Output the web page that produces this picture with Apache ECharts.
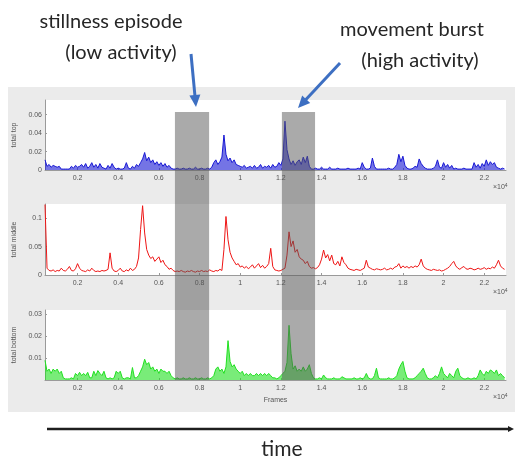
<!DOCTYPE html>
<html>
<head>
<meta charset="utf-8">
<script src="https://cdn.jsdelivr.net/npm/echarts@6/dist/echarts.min.js"></script>
<style>
html,body{margin:0;padding:0;background:#fff;}
#chart{width:515px;height:458px;}
</style>
</head>
<body>
<div id="chart"></div>
<script>
// ---- data (frames sampled every 100 frames, starting at frame 400) ----
var frameStart = 400;
var frameStep = 100;
var xTickValues = [2000, 4000, 6000, 8000, 10000, 12000, 14000, 16000, 18000, 20000, 22000];
var topTicks = [0, 0.02, 0.04, 0.06];
var middleTicks = [0, 0.05, 0.1];
var bottomTicks = [0.01, 0.02, 0.03];
var stillnessRange = [6790, 8470];
var burstRange = [12050, 13680];

var totalTop = [
0.011,0.004,0.006,0.003,0.005,0.004,0.003,0.004,0.001,0.001,
0.001,0.001,0.001,0.004,0.002,0.005,0.003,0.004,0.006,0.003,
0.007,0.002,0.004,0.008,0.003,0.006,0.002,0.007,0.003,0.002,
0.001,0.005,0.002,0.007,0.003,0.001,0.002,0.001,0.001,0.002,
0.008,0.002,0.001,0.004,0.002,0.006,0.004,0.008,0.012,0.019,
0.010,0.014,0.008,0.011,0.006,0.009,0.005,0.008,0.004,0.007,
0.003,0.005,0.002,0.001,0.001,0.002,0.001,0.001,0.002,0.001,
0.001,0.002,0.001,0.001,0.003,0.001,0.001,0.002,0.001,0.001,
0.002,0.001,0.003,0.008,0.011,0.006,0.009,0.014,0.038,0.017,
0.010,0.013,0.008,0.011,0.006,0.005,0.004,0.003,0.005,0.002,
0.003,0.004,0.002,0.005,0.002,0.003,0.006,0.002,0.004,0.003,
0.005,0.002,0.006,0.003,0.004,0.008,0.005,0.012,0.053,0.022,
0.012,0.006,0.010,0.005,0.009,0.011,0.006,0.014,0.008,0.015,
0.004,0.001,0.001,0.002,0.001,0.001,0.003,0.001,0.001,0.001,
0.003,0.001,0.001,0.001,0.002,0.001,0.001,0.001,0.001,0.002,
0.001,0.001,0.001,0.001,0.002,0.001,0.008,0.003,0.001,0.001,
0.002,0.013,0.004,0.001,0.001,0.001,0.001,0.001,0.001,0.002,
0.001,0.001,0.003,0.006,0.017,0.009,0.015,0.005,0.002,0.001,
0.001,0.002,0.004,0.003,0.012,0.007,0.004,0.002,0.001,0.001,
0.001,0.002,0.004,0.011,0.003,0.002,0.008,0.003,0.006,0.002,
0.005,0.001,0.002,0.001,0.001,0.001,0.002,0.001,0.001,0.001,
0.001,0.008,0.003,0.006,0.002,0.007,0.004,0.011,0.005,0.009,
0.006,0.008,0.003,0.002,0.001,0.002,0.001
];

var totalMiddle = [
0.124,0.012,0.008,0.007,0.009,0.006,0.008,0.007,0.012,0.008,
0.007,0.010,0.015,0.008,0.007,0.011,0.020,0.012,0.008,0.007,
0.006,0.009,0.007,0.012,0.008,0.006,0.007,0.006,0.008,0.007,
0.008,0.010,0.039,0.012,0.007,0.006,0.008,0.012,0.007,0.006,
0.009,0.007,0.012,0.008,0.010,0.015,0.030,0.080,0.122,0.074,
0.045,0.035,0.029,0.032,0.024,0.028,0.032,0.022,0.026,0.018,
0.015,0.010,0.012,0.008,0.006,0.007,0.006,0.008,0.006,0.005,
0.007,0.006,0.008,0.006,0.005,0.007,0.006,0.008,0.006,0.007,
0.006,0.009,0.007,0.006,0.008,0.007,0.010,0.008,0.045,0.103,
0.062,0.040,0.030,0.024,0.018,0.020,0.014,0.016,0.012,0.015,
0.011,0.014,0.018,0.012,0.016,0.020,0.013,0.017,0.012,0.015,
0.020,0.047,0.015,0.009,0.008,0.007,0.008,0.010,0.012,0.035,
0.076,0.050,0.060,0.040,0.045,0.032,0.028,0.026,0.020,0.024,
0.015,0.012,0.013,0.011,0.013,0.018,0.028,0.044,0.030,0.036,
0.025,0.035,0.020,0.018,0.024,0.016,0.032,0.022,0.018,0.012,
0.010,0.009,0.008,0.010,0.009,0.008,0.010,0.012,0.026,0.014,
0.012,0.010,0.009,0.011,0.010,0.009,0.010,0.012,0.009,0.010,
0.012,0.010,0.014,0.015,0.020,0.012,0.016,0.013,0.015,0.012,
0.015,0.013,0.016,0.014,0.018,0.028,0.016,0.012,0.010,0.009,
0.008,0.010,0.009,0.008,0.009,0.007,0.008,0.010,0.012,0.015,
0.020,0.024,0.016,0.012,0.010,0.013,0.015,0.011,0.010,0.012,
0.011,0.009,0.010,0.012,0.010,0.011,0.013,0.010,0.012,0.011,
0.014,0.012,0.018,0.026,0.016,0.012,0.010
];

var totalBottom = [
0.009,0.004,0.005,0.003,0.005,0.004,0.005,0.003,0.004,0.001,
0.0005,0.0005,0.0005,0.001,0.0005,0.003,0.002,0.0035,0.002,0.003,
0.002,0.0035,0.001,0.001,0.004,0.002,0.0043,0.003,0.002,0.004,
0.001,0.0005,0.001,0.0005,0.001,0.004,0.003,0.004,0.001,0.0005,
0.001,0.001,0.0005,0.0057,0.001,0.001,0.002,0.004,0.006,0.0095,
0.007,0.008,0.005,0.006,0.004,0.005,0.003,0.005,0.004,0.004,
0.003,0.004,0.002,0.001,0.0005,0.001,0.0005,0.0005,0.001,0.0005,
0.0005,0.001,0.0005,0.0005,0.001,0.0005,0.0005,0.001,0.0005,0.0005,
0.001,0.0005,0.001,0.002,0.005,0.006,0.004,0.005,0.003,0.006,
0.018,0.0085,0.006,0.007,0.005,0.004,0.003,0.004,0.002,0.003,
0.002,0.003,0.002,0.002,0.003,0.002,0.003,0.002,0.003,0.002,
0.003,0.002,0.001,0.001,0.0005,0.001,0.002,0.003,0.004,0.008,
0.025,0.012,0.005,0.0065,0.004,0.005,0.004,0.006,0.004,0.005,
0.007,0.003,0.001,0.0005,0.0005,0.001,0.0005,0.0023,0.001,0.0005,
0.0005,0.0005,0.001,0.0005,0.0005,0.0005,0.0015,0.001,0.0005,0.0005,
0.0005,0.0005,0.001,0.0005,0.0005,0.001,0.0005,0.001,0.003,0.001,
0.0005,0.0005,0.002,0.0054,0.001,0.0005,0.0005,0.0005,0.0005,0.001,
0.0005,0.0005,0.001,0.002,0.005,0.007,0.0085,0.004,0.001,0.0005,
0.0005,0.0005,0.001,0.002,0.003,0.004,0.0054,0.003,0.001,0.0005,
0.0005,0.001,0.002,0.001,0.003,0.006,0.003,0.002,0.001,0.003,
0.002,0.001,0.004,0.0054,0.002,0.001,0.0005,0.0005,0.001,0.0005,
0.0005,0.001,0.0005,0.002,0.0046,0.003,0.002,0.004,0.003,0.0046,
0.004,0.003,0.0046,0.002,0.003,0.002,0.001
];

function pairs(vals) {
  var out = [];
  for (var i = 0; i < vals.length; i++) out.push([frameStart + i * frameStep, vals[i]]);
  return out;
}

var chart = echarts.init(document.getElementById('chart'), null, {renderer: 'canvas'});

var gridLeft = 45, gridWidth = 461;
var grids = [
  {left: gridLeft, width: gridWidth, top: 100, height: 70},
  {left: gridLeft, width: gridWidth, top: 204, height: 71},
  {left: gridLeft, width: gridWidth, top: 310, height: 70}
];
grids.forEach(function (g) {
  g.show = true; g.backgroundColor = '#ffffff'; g.borderWidth = 0;
  g.containLabel = false; g.outerBoundsMode = 'none';
});

var axisFont = 'Liberation Sans, Arial, sans-serif';
function xAxisDef(i, withName) {
  var a = {
    type: 'value', gridIndex: i, min: 400, max: 23070,
    axisLine: {show: true, lineStyle: {color: '#9a9a9a', width: 1}},
    axisTick: {show: true, inside: true, length: 2, customValues: xTickValues, lineStyle: {color: '#9a9a9a'}},
    splitLine: {show: false},
    axisLabel: {
      customValues: xTickValues, fontSize: 7, color: '#555', margin: 5, fontFamily: axisFont,
      formatter: function (v) { return String(+(v / 10000).toFixed(1)); }
    }
  };
  if (withName) {
    a.name = 'Frames'; a.nameLocation = 'middle'; a.nameGap = 17;
    a.nameTextStyle = {fontSize: 7, color: '#555', fontFamily: axisFont};
  }
  return a;
}
function yAxisDef(i, max, ticks, name, dec) {
  return {
    type: 'value', gridIndex: i, min: 0, max: max,
    name: name, nameLocation: 'middle', nameGap: 22, nameRotate: 90,
    nameTextStyle: {fontSize: 7, color: '#555', fontFamily: axisFont},
    axisLine: {show: true, lineStyle: {color: '#9a9a9a', width: 1}},
    axisTick: {show: true, inside: true, length: 2, customValues: ticks, lineStyle: {color: '#9a9a9a'}},
    splitLine: {show: false},
    axisLabel: {
      customValues: ticks, fontSize: 7, color: '#555', margin: 3, fontFamily: axisFont,
      formatter: function (v) { return v === 0 ? '0' : String(+v.toFixed(dec)); }
    }
  };
}
function seriesDef(i, vals, color, areaOpacity) {
  var s = {
    type: 'line', xAxisIndex: i, yAxisIndex: i, data: pairs(vals),
    showSymbol: false, symbol: 'none', smooth: false,
    lineStyle: {color: color, width: 1},
    silent: true
  };
  if (areaOpacity > 0) s.areaStyle = {color: color, opacity: areaOpacity};
  return s;
}

var option = {
  animation: false,
  backgroundColor: '#ffffff',
  grid: grids,
  xAxis: [xAxisDef(0, false), xAxisDef(1, false), xAxisDef(2, true)],
  yAxis: [
    yAxisDef(0, 0.076, topTicks, 'total top', 2),
    yAxisDef(1, 0.125, middleTicks, 'total middle', 2),
    yAxisDef(2, 0.032, bottomTicks, 'total bottom', 2)
  ],
  series: [
    seriesDef(0, totalTop, '#1818d4', 0.6),
    seriesDef(1, totalMiddle, '#ee1515', 0),
    seriesDef(2, totalBottom, '#20e020', 0.6)
  ]
};
chart.setOption(option);

// ---- annotations ----
function xp(v) { return chart.convertToPixel({xAxisIndex: 0}, v); }
var boxTop = chart.convertToPixel({yAxisIndex: 0}, 0.063);
var boxBottom = chart.convertToPixel({yAxisIndex: 2}, 0);
var g = [];
// figure panel
g.push({type: 'rect', z: -10, silent: true, shape: {x: 8, y: 87, width: 507, height: 325}, style: {fill: '#ebebeb'}});
// shaded episodes
[stillnessRange, burstRange].forEach(function (r) {
  var x0 = xp(r[0]), x1 = xp(r[1]);
  g.push({type: 'rect', z: 100, silent: true, shape: {x: x0, y: boxTop, width: x1 - x0, height: boxBottom - boxTop},
    style: {fill: 'rgba(85,85,85,0.5)'}});
});
// x10^4 labels
grids.forEach(function (gr) {
  g.push({type: 'text', z: 100, silent: true, x: 493, y: gr.top + gr.height + 13,
    style: {text: '×10{s|4}', fill: '#555', fontSize: 7, fontFamily: axisFont,
      rich: {s: {fontSize: 5, verticalAlign: 'top', padding: [0, 0, 4, 0], fill: '#555'}}}});
});
var fontF = 'Lato, "Open Sans", sans-serif';
function txt(t, x, y, size) {
  g.push({type: 'text', z: 110, silent: true, x: x, y: y,
    style: {text: t, fill: '#262626', fontSize: size, fontFamily: fontF, align: 'center', verticalAlign: 'middle'}});
}
txt('stillness episode', 111, 22, 20);
txt('(low activity)', 121, 53, 20);
txt('movement burst', 412, 30, 20);
txt('(high activity)', 420, 61, 20);
txt('time', 282, 449, 21);
// annotation arrows
var arrowColor = '#3d6fc2';
function arrow(x0, y0, x1, y1, color, w, hl, hw) {
  var dx = x1 - x0, dy = y1 - y0, L = Math.sqrt(dx * dx + dy * dy);
  var ux = dx / L, uy = dy / L;
  var bx = x1 - ux * hl, by = y1 - uy * hl;
  g.push({type: 'line', z: 120, silent: true, shape: {x1: x0, y1: y0, x2: bx + ux * 1, y2: by + uy * 1},
    style: {stroke: color, lineWidth: w}});
  g.push({type: 'polygon', z: 120, silent: true,
    shape: {points: [[x1, y1], [bx - uy * hw, by + ux * hw], [bx + uy * hw, by - ux * hw]]},
    style: {fill: color}});
}
arrow(191, 54, 196, 107, arrowColor, 3, 12, 5.5);
arrow(340, 63, 298, 108, arrowColor, 3, 12, 5.5);
arrow(47, 429, 514, 429, '#1e1e1e', 2.5, 6, 3);

chart.setOption({graphic: g});
</script>
</body>
</html>
